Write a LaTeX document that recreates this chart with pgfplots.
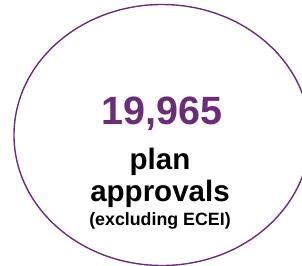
\documentclass[border=0pt]{standalone}
\usepackage{pgfplots}
\pgfplotsset{compat=1.18}
\usepackage{fontspec}
\setmainfont{Liberation Sans}
\definecolor{ndispurple}{RGB}{108,44,124}
\begin{document}
\begin{tikzpicture}
\begin{axis}[
  width=302pt, height=265pt, scale only axis,
  xmin=0, xmax=302, ymin=0, ymax=265, y dir=reverse,
  hide axis, clip=true,
]
\addplot[draw=none, forget plot] coordinates {(0,0) (302,265)};
\draw[ndispurple, line width=1.4pt] (axis cs:162,135) ellipse [x radius=148, y radius=130.5];
\node[anchor=base, text=ndispurple, font=\fontsize{39.5}{39.5}\selectfont\bfseries, inner sep=0pt] at (axis cs:162,124) {19,965};
\node[anchor=base, font=\fontsize{29.5}{29.5}\selectfont\bfseries, inner sep=0pt] at (axis cs:160,169) {plan};
\node[anchor=base, font=\fontsize{29.5}{29.5}\selectfont\bfseries, inner sep=0pt] at (axis cs:160,201) {approvals};
\node[anchor=base, font=\fontsize{17.8}{17.8}\selectfont\bfseries, inner sep=0pt] at (axis cs:160,225) {(excluding ECEI)};
\end{axis}
\pgfresetboundingbox
\useasboundingbox (0,0) rectangle (302pt,265pt);
\end{tikzpicture}
\end{document}
